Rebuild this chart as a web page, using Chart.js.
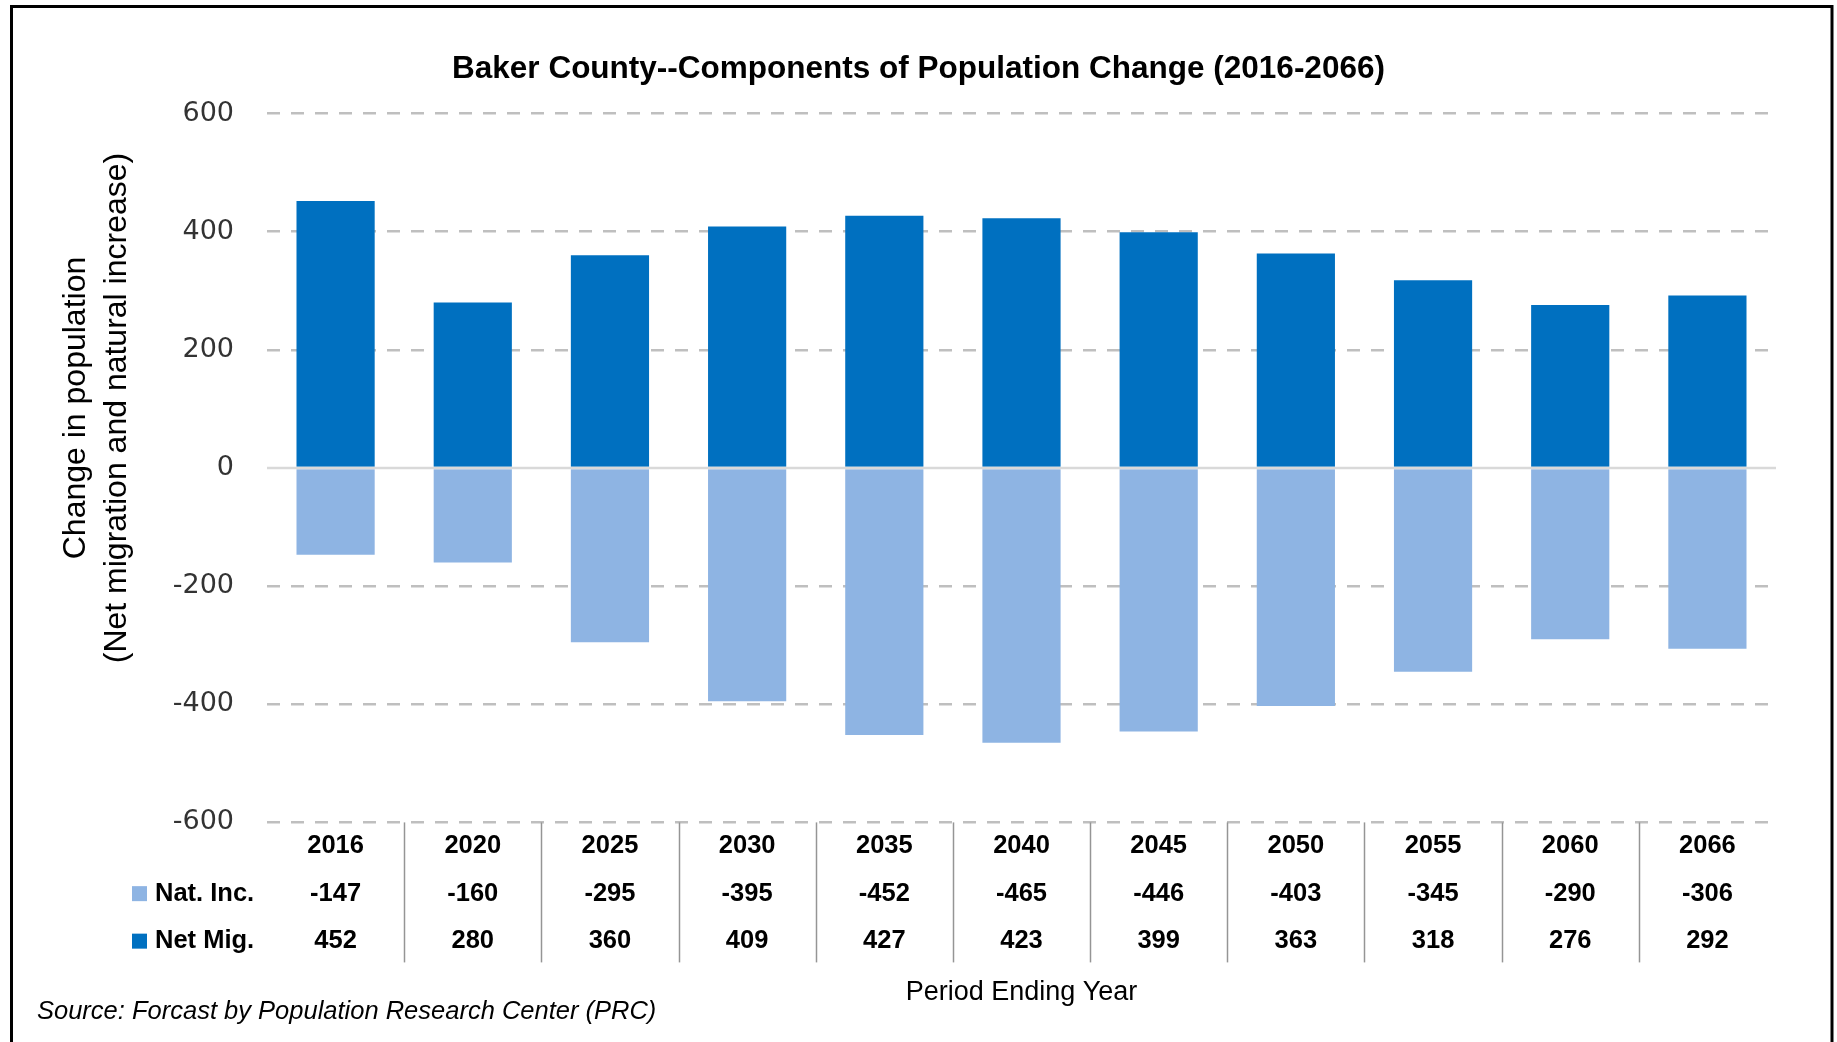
<!DOCTYPE html>
<html>
<head>
<meta charset="utf-8">
<script src="https://cdn.jsdelivr.net/npm/chart.js@4.4.1/dist/chart.umd.min.js"></script>
<style>
  html, body { margin: 0; padding: 0; background: #fff; }
  #wrap { width: 1837px; height: 1042px; position: relative; }
</style>
</head>
<body>
<div id="wrap"><canvas id="c"></canvas></div>
<script>
// ---- data ----
const years = ['2016', '2020', '2025', '2030', '2035', '2040', '2045', '2050', '2055', '2060', '2066'];
const natInc = [-147, -160, -295, -395, -452, -465, -446, -403, -345, -290, -306];
const netMig = [452, 280, 360, 409, 427, 423, 399, 363, 318, 276, 292];
const seriesNames = ['Nat. Inc.', 'Net Mig.'];
const yMin = -600, yMax = 600, yStep = 200;
const titleText = 'Baker County--Components of Population Change (2016-2066)';
const yTitleLines = ['Change in population', '(Net migration and natural increase)'];
const xTitleText = 'Period Ending Year';
const sourceText = 'Source: Forcast by Population Research Center (PRC)';

const colNat = '#8EB4E3';
const colMig = '#0070C0';
const tableFont = '"Liberation Sans", Arial, sans-serif';
const TABLE_LH = 47.5;
const TABLE_PAD = 0;

const decor = {
  id: 'decor',
  beforeDraw(chart) {
    const c = chart.ctx;
    c.save();
    c.fillStyle = '#fff';
    c.fillRect(0, 0, chart.width, chart.height);
    c.restore();
  },
  afterDatasetsDraw(chart) {
    const c = chart.ctx, ca = chart.chartArea, y = chart.scales.y;
    const y0 = y.getPixelForValue(0);
    c.save();
    c.strokeStyle = '#D9D9D9';
    c.lineWidth = 2.5;
    c.beginPath();
    c.moveTo(ca.left, y0);
    c.lineTo(ca.right, y0);
    c.stroke();
    c.restore();
  },
  afterDraw(chart) {
    const c = chart.ctx, ca = chart.chartArea, x = chart.scales.x;
    c.save();
    // table separators
    c.strokeStyle = '#959595';
    c.lineWidth = 1.5;
    for (let i = 0; i < years.length - 1; i++) {
      const px = Math.round((x.getPixelForValue(i) + x.getPixelForValue(i + 1)) / 2) + 0.5;
      c.beginPath();
      c.moveTo(px, ca.bottom);
      c.lineTo(px, ca.bottom + 140);
      c.stroke();
    }
    // legend keys in table
    const cols = [colNat, colMig];
    c.font = 'bold 25.5px ' + tableFont;
    c.textBaseline = 'middle';
    c.textAlign = 'left';
    for (let r = 0; r < 2; r++) {
      const ry = ca.bottom + TABLE_PAD + TABLE_LH * (r + 1.5);
      c.fillStyle = cols[r];
      c.fillRect(132, ry - 7.5, 15, 15);
      c.fillStyle = '#000';
      c.fillText(seriesNames[r], 155, ry);
    }
    // y axis title (two rotated lines)
    c.font = '32px ' + tableFont;
    c.fillStyle = '#000';
    c.textAlign = 'center';
    const yc = 408;
    const xs = [76, 117];
    for (let i = 0; i < 2; i++) {
      c.save();
      c.translate(xs[i], yc);
      c.rotate(-Math.PI / 2);
      c.fillText(yTitleLines[i], 0, 0);
      c.restore();
    }
    // source
    c.font = 'italic 25.5px ' + tableFont;
    c.textAlign = 'left';
    c.fillStyle = '#000';
    c.fillText(sourceText, 37, 1011.5);
    // frame
    c.strokeStyle = '#000';
    c.lineWidth = 3;
    c.strokeRect(11.5, 6.5, 1820.5, 1100);
    c.restore();
  }
};

new Chart(document.getElementById('c'), {
  type: 'bar',
  data: {
    labels: years,
    datasets: [
      { label: seriesNames[0], data: natInc, backgroundColor: colNat, borderWidth: 0, barPercentage: 0.57, categoryPercentage: 1 },
      { label: seriesNames[1], data: netMig, backgroundColor: colMig, borderWidth: 0, barPercentage: 0.57, categoryPercentage: 1 }
    ]
  },
  options: {
    responsive: true,
    maintainAspectRatio: false,
    animation: false,
    layout: { padding: 0 },
    plugins: {
      legend: { display: false },
      tooltip: { enabled: false },
      title: {
        display: true,
        text: titleText,
        color: '#000',
        font: { family: tableFont, size: 31.5, weight: 'bold' },
        padding: { top: 50, bottom: 25.8 }
      }
    },
    scales: {
      x: {
        stacked: true,
        grid: { display: false, drawTicks: false },
        border: { display: false },
        ticks: {
          autoSkip: false,
          maxRotation: 0,
          minRotation: 0,
          padding: TABLE_PAD,
          color: '#000',
          font: { family: tableFont, size: 25.5, weight: 'bold', lineHeight: TABLE_LH / 25.5 },
          callback: function (v, i) { return [years[i], String(natInc[i]), String(netMig[i])]; }
        },
        title: {
          display: true,
          text: xTitleText,
          color: '#000',
          font: { family: tableFont, size: 27 },
          padding: { top: 0, bottom: 33.5 }
        },
        afterFit(s) { s.height = 219.6; }
      },
      y: {
        stacked: true,
        min: yMin,
        max: yMax,
        ticks: {
          stepSize: yStep,
          padding: 33,
          color: '#333',
          font: { family: '"DejaVu Sans", sans-serif', size: 27 }
        },
        grid: {
          drawTicks: false,
          lineWidth: 2.5,
          color: (ctx) => (ctx.tick && ctx.tick.value === 0) ? 'rgba(0,0,0,0)' : '#BFBFBF'
        },
        border: { display: false, dash: [13, 11] },
        afterFit(s) { s.width = 267; }
      },
      yR: {
        position: 'right',
        min: yMin,
        max: yMax,
        grid: { display: false, drawTicks: false },
        border: { display: false },
        ticks: { display: false },
        afterFit(s) { s.width = 61; }
      }
    }
  },
  plugins: [decor]
});
</script>
</body>
</html>
